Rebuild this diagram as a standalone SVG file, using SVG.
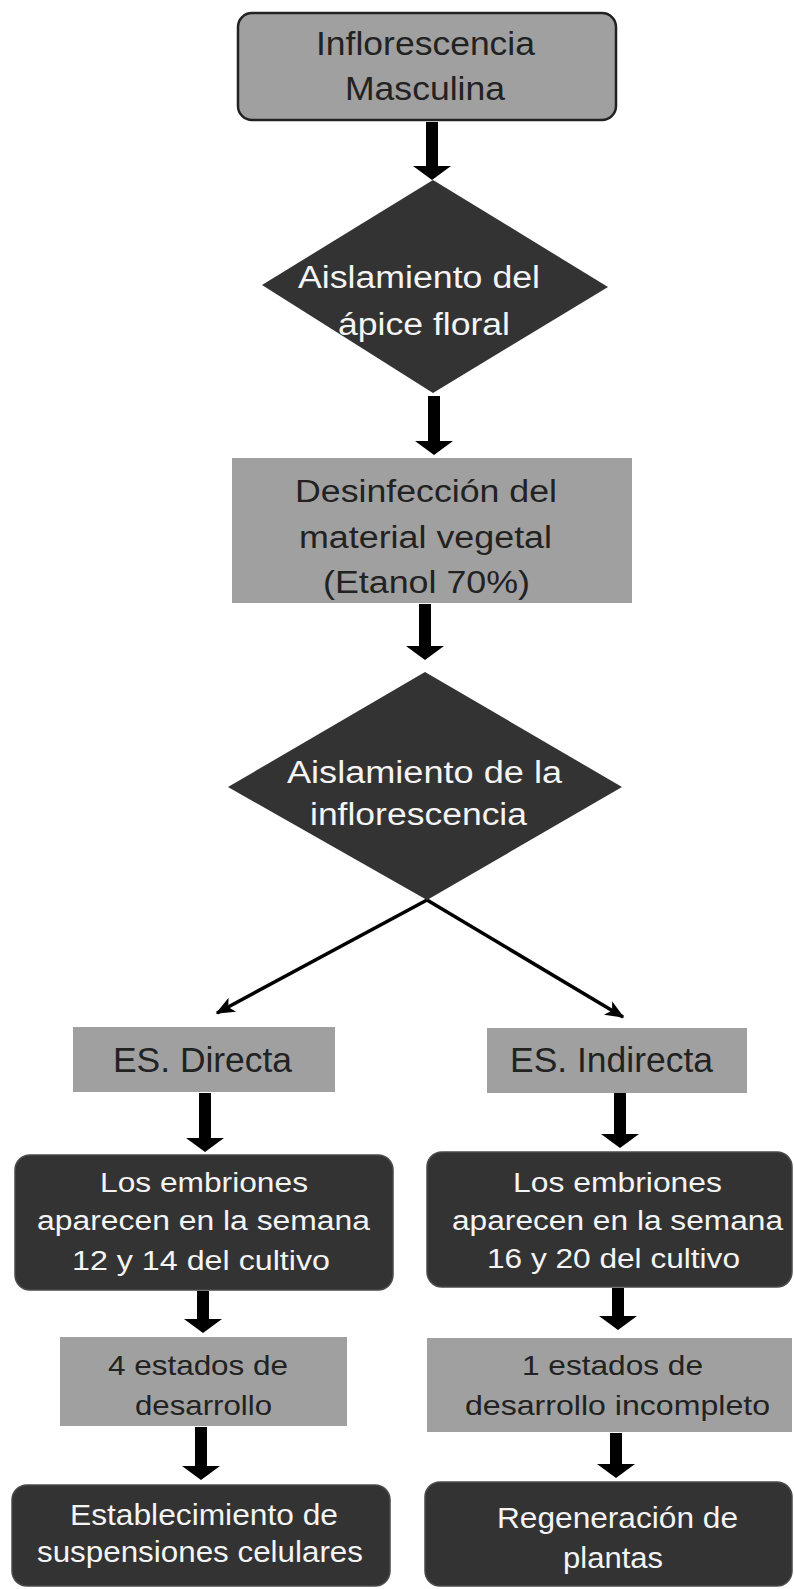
<svg xmlns="http://www.w3.org/2000/svg" width="794" height="1589" viewBox="0 0 794 1589">
<style>
text{font-family:"Liberation Sans",Arial,sans-serif;text-anchor:middle}
.gray{fill:#a0a0a0}
.dark{fill:#333333;stroke:#4a4a4a;stroke-width:1.5}
.dia{fill:#333333}
.tg{fill:#222222}
.tw{fill:#f4f4f4}
.blk{stroke:#000;stroke-width:12;fill:none}
.thin{stroke:#000;stroke-width:3.5;fill:none}
</style>
<defs>
<marker id="bh" markerUnits="userSpaceOnUse" viewBox="0 0 14 38" refX="0" refY="19" markerWidth="14" markerHeight="38" orient="auto">
<path d="M0,0 L14,19 L0,38 Z" fill="#000"/>
</marker>
<marker id="th" markerUnits="userSpaceOnUse" viewBox="0 0 12 10" refX="11" refY="5" markerWidth="19" markerHeight="16" orient="auto">
<path d="M0,0 L12,5 L0,10 L3,5 Z" fill="#000"/>
</marker>
</defs>
<rect width="794" height="1589" fill="#ffffff"/>

<g id="connectors">
<line class="blk" x1="432" y1="122" x2="432" y2="166" marker-end="url(#bh)"/>
<line class="blk" x1="434" y1="396" x2="434" y2="441" marker-end="url(#bh)"/>
<line class="blk" x1="425" y1="604" x2="425" y2="646" marker-end="url(#bh)"/>
<line class="thin" x1="427" y1="900" x2="217" y2="1013" marker-end="url(#th)"/>
<line class="thin" x1="427" y1="900" x2="623" y2="1017" marker-end="url(#th)"/>
<line class="blk" x1="205" y1="1093" x2="205" y2="1138" marker-end="url(#bh)"/>
<line class="blk" x1="620" y1="1093" x2="620" y2="1134" marker-end="url(#bh)"/>
<line class="blk" x1="203" y1="1291" x2="203" y2="1319" marker-end="url(#bh)"/>
<line class="blk" x1="618" y1="1288" x2="618" y2="1316" marker-end="url(#bh)"/>
<line class="blk" x1="201" y1="1427" x2="201" y2="1466" marker-end="url(#bh)"/>
<line class="blk" x1="616" y1="1433" x2="616" y2="1464" marker-end="url(#bh)"/>
</g>

<g id="n1">
<rect x="238" y="13" width="378" height="107" rx="14" fill="#a0a0a0" stroke="#222" stroke-width="2.5"/>
<text class="tg" x="425.5" y="55" font-size="33" textLength="219" lengthAdjust="spacingAndGlyphs">Inflorescencia</text>
<text class="tg" x="425" y="100" font-size="33" textLength="160" lengthAdjust="spacingAndGlyphs">Masculina</text>
</g>

<g id="n2">
<polygon class="dia" points="433,180 608,287 433,393 262,285"/>
<text class="tw" x="419" y="288" font-size="31" textLength="242" lengthAdjust="spacingAndGlyphs">Aislamiento del</text>
<text class="tw" x="424" y="335" font-size="31" textLength="172" lengthAdjust="spacingAndGlyphs">ápice floral</text>
</g>

<g id="n3">
<rect class="gray" x="232" y="458" width="400" height="145"/>
<text class="tg" x="426" y="502" font-size="31" textLength="262" lengthAdjust="spacingAndGlyphs">Desinfección del</text>
<text class="tg" x="425.5" y="548" font-size="31" textLength="253" lengthAdjust="spacingAndGlyphs">material vegetal</text>
<text class="tg" x="426.5" y="593" font-size="31" textLength="207" lengthAdjust="spacingAndGlyphs">(Etanol 70%)</text>
</g>

<g id="n4">
<polygon class="dia" points="425,672 622,787 427,900 228,787"/>
<text class="tw" x="424.5" y="783" font-size="31" textLength="275" lengthAdjust="spacingAndGlyphs">Aislamiento de la</text>
<text class="tw" x="418.5" y="825" font-size="31" textLength="217" lengthAdjust="spacingAndGlyphs">inflorescencia</text>
</g>

<g id="n5">
<rect class="gray" x="73" y="1027" width="262" height="65"/>
<text class="tg" x="202.5" y="1072" font-size="35" textLength="179" lengthAdjust="spacingAndGlyphs">ES. Directa</text>
</g>

<g id="n6">
<rect class="gray" x="487" y="1028" width="260" height="65"/>
<text class="tg" x="611.5" y="1072" font-size="35" textLength="203" lengthAdjust="spacingAndGlyphs">ES. Indirecta</text>
</g>

<g id="n7">
<rect class="dark" x="15" y="1155" width="378" height="135" rx="15"/>
<text class="tw" x="204" y="1192" font-size="27" textLength="208" lengthAdjust="spacingAndGlyphs">Los embriones</text>
<text class="tw" x="203.5" y="1230" font-size="27" textLength="333" lengthAdjust="spacingAndGlyphs">aparecen en la semana</text>
<text class="tw" x="201" y="1270" font-size="27" textLength="258" lengthAdjust="spacingAndGlyphs">12 y 14 del cultivo</text>
</g>

<g id="n8">
<rect class="dark" x="427" y="1152" width="365" height="135" rx="15"/>
<text class="tw" x="617.5" y="1192" font-size="27" textLength="209" lengthAdjust="spacingAndGlyphs">Los embriones</text>
<text class="tw" x="617.5" y="1230" font-size="27" textLength="331" lengthAdjust="spacingAndGlyphs">aparecen en la semana</text>
<text class="tw" x="613.5" y="1268" font-size="27" textLength="253" lengthAdjust="spacingAndGlyphs">16 y 20 del cultivo</text>
</g>

<g id="n9">
<rect class="gray" x="60" y="1337" width="287" height="89"/>
<text class="tg" x="198" y="1375" font-size="28" textLength="180" lengthAdjust="spacingAndGlyphs">4 estados de</text>
<text class="tg" x="203.5" y="1415" font-size="28" textLength="137" lengthAdjust="spacingAndGlyphs">desarrollo</text>
</g>

<g id="n10">
<rect class="gray" x="427" y="1338" width="365" height="94"/>
<text class="tg" x="612.5" y="1375" font-size="28" textLength="181" lengthAdjust="spacingAndGlyphs">1 estados de</text>
<text class="tg" x="617.5" y="1415" font-size="28" textLength="305" lengthAdjust="spacingAndGlyphs">desarrollo incompleto</text>
</g>

<g id="n11">
<rect class="dark" x="12" y="1485" width="378" height="101" rx="15"/>
<text class="tw" x="204" y="1525" font-size="29" textLength="268" lengthAdjust="spacingAndGlyphs">Establecimiento de</text>
<text class="tw" x="200" y="1562" font-size="29" textLength="326" lengthAdjust="spacingAndGlyphs">suspensiones celulares</text>
</g>

<g id="n12">
<rect class="dark" x="425" y="1482" width="367" height="104" rx="15"/>
<text class="tw" x="617.5" y="1528" font-size="29" textLength="241" lengthAdjust="spacingAndGlyphs">Regeneración de</text>
<text class="tw" x="613" y="1568" font-size="29" textLength="100" lengthAdjust="spacingAndGlyphs">plantas</text>
</g>
</svg>
